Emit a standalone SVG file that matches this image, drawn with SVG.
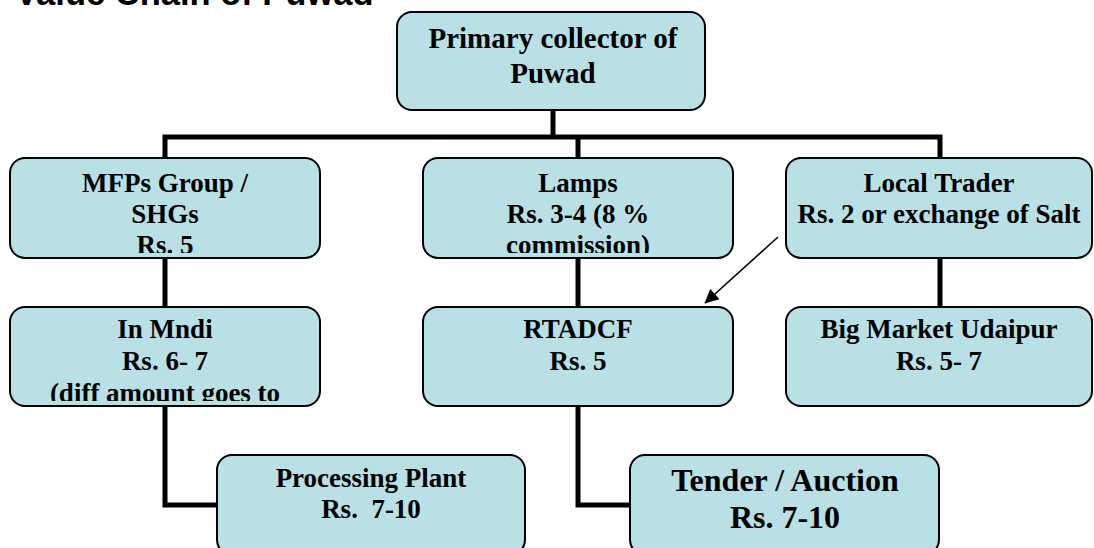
<svg xmlns="http://www.w3.org/2000/svg" width="1094" height="548" viewBox="0 0 1094 548">
  <style>
    .box { fill: #b9e0e4; stroke: #000; stroke-width: 2; }
    .lbl { font-family: "Liberation Serif", "Times New Roman", serif; font-weight: bold; font-size: 27px; fill: #000; text-anchor: middle; }
    .big { font-size: 32px; }
    .top { font-size: 29px; }
    .title { font-family: "Liberation Sans", Arial, sans-serif; font-weight: bold; font-size: 34.5px; fill: #000; }
    .tree { fill: none; stroke: #000; stroke-width: 5; stroke-linejoin: miter; }
    .arrow { fill: none; stroke: #000; stroke-width: 1.6; }
  </style>
  <defs>
    <marker id="head" viewBox="0 0 10 10" refX="9" refY="5" markerWidth="10" markerHeight="10" markerUnits="userSpaceOnUse" orient="auto">
      <path d="M0,0 L10,5 L0,10 z" fill="#000"/>
    </marker>
    <marker id="headLg" viewBox="0 0 10 10" refX="9.5" refY="5" markerWidth="16" markerHeight="14" markerUnits="userSpaceOnUse" orient="auto">
      <path d="M0,0 L10,5 L0,10 z" fill="#000"/>
    </marker>
    <!-- text areas inside the boxes; overflowing lines are cut off -->
    <clipPath id="c-mfp"><rect x="10" y="160" width="310" height="93"/></clipPath>
    <clipPath id="c-lamps"><rect x="423" y="160" width="310" height="93"/></clipPath>
    <clipPath id="c-trader"><rect x="786" y="160" width="306" height="93"/></clipPath>
    <clipPath id="c-mndi"><rect x="10" y="309" width="310" height="92"/></clipPath>
  </defs>

  <text class="title" x="15" y="5">Value Chain of Puwad</text>

  <g id="connectors">
    <path class="tree" d="M553,110 V137"/>
    <path class="tree" d="M165,158 V137 H940 V158"/>
    <path class="tree" d="M578,137 V158"/>
    <path class="tree" d="M165,258 V307"/>
    <path class="tree" d="M578,258 V307"/>
    <path class="tree" d="M940,258 V307"/>
    <path class="tree" d="M165,406 V505 H217"/>
    <path class="tree" d="M578,406 V505 H630"/>
    <line class="arrow" x1="778" y1="237" x2="705" y2="303" marker-end="url(#headLg)"/>
  </g>

  <g id="primary-collector">
    <rect class="box" x="397" y="12" width="308" height="98" rx="15"/>
    <text class="lbl top" x="553" y="48">Primary collector of</text>
    <text class="lbl top" x="553" y="83">Puwad</text>
  </g>

  <g id="mfps-group">
    <rect class="box" x="10" y="158" width="310" height="100" rx="15"/>
    <g clip-path="url(#c-mfp)">
      <text class="lbl" x="165" y="192">MFPs Group /</text>
      <text class="lbl" x="165" y="223">SHGs</text>
      <text class="lbl" x="165" y="254">Rs. 5</text>
    </g>
  </g>

  <g id="lamps">
    <rect class="box" x="423" y="158" width="310" height="100" rx="15"/>
    <g clip-path="url(#c-lamps)">
      <text class="lbl" x="578" y="192">Lamps</text>
      <text class="lbl" x="578" y="223">Rs. 3-4 (8 %</text>
      <text class="lbl" x="578" y="254">commission)</text>
    </g>
  </g>

  <g id="local-trader">
    <rect class="box" x="786" y="158" width="306" height="100" rx="15"/>
    <g clip-path="url(#c-trader)">
      <text class="lbl" x="939" y="192">Local Trader</text>
      <text class="lbl" x="939" y="223">Rs. 2 or exchange of Salt</text>
    </g>
  </g>

  <g id="in-mndi">
    <rect class="box" x="10" y="307" width="310" height="99" rx="15"/>
    <g clip-path="url(#c-mndi)">
      <text class="lbl" x="165" y="338">In Mndi</text>
      <text class="lbl" x="165" y="370">Rs. 6- 7</text>
      <text class="lbl" x="165" y="402">(diff amount goes to</text>
    </g>
  </g>

  <g id="rtadcf">
    <rect class="box" x="423" y="307" width="310" height="99" rx="15"/>
    <text class="lbl" x="578" y="338">RTADCF</text>
    <text class="lbl" x="578" y="370">Rs. 5</text>
  </g>

  <g id="big-market">
    <rect class="box" x="786" y="307" width="306" height="99" rx="15"/>
    <text class="lbl" x="939" y="338">Big Market Udaipur</text>
    <text class="lbl" x="939" y="370">Rs. 5- 7</text>
  </g>

  <g id="processing-plant">
    <rect class="box" x="217" y="455" width="308" height="100" rx="15"/>
    <text class="lbl" x="371" y="487" xml:space="preserve">Processing Plant</text>
    <text class="lbl" x="371" y="518" xml:space="preserve">Rs.  7-10</text>
  </g>

  <g id="tender-auction">
    <rect class="box" x="630" y="455" width="309" height="100" rx="15"/>
    <text class="lbl big" x="785" y="491">Tender / Auction</text>
    <text class="lbl big" x="785" y="528">Rs. 7-10</text>
  </g>
</svg>
